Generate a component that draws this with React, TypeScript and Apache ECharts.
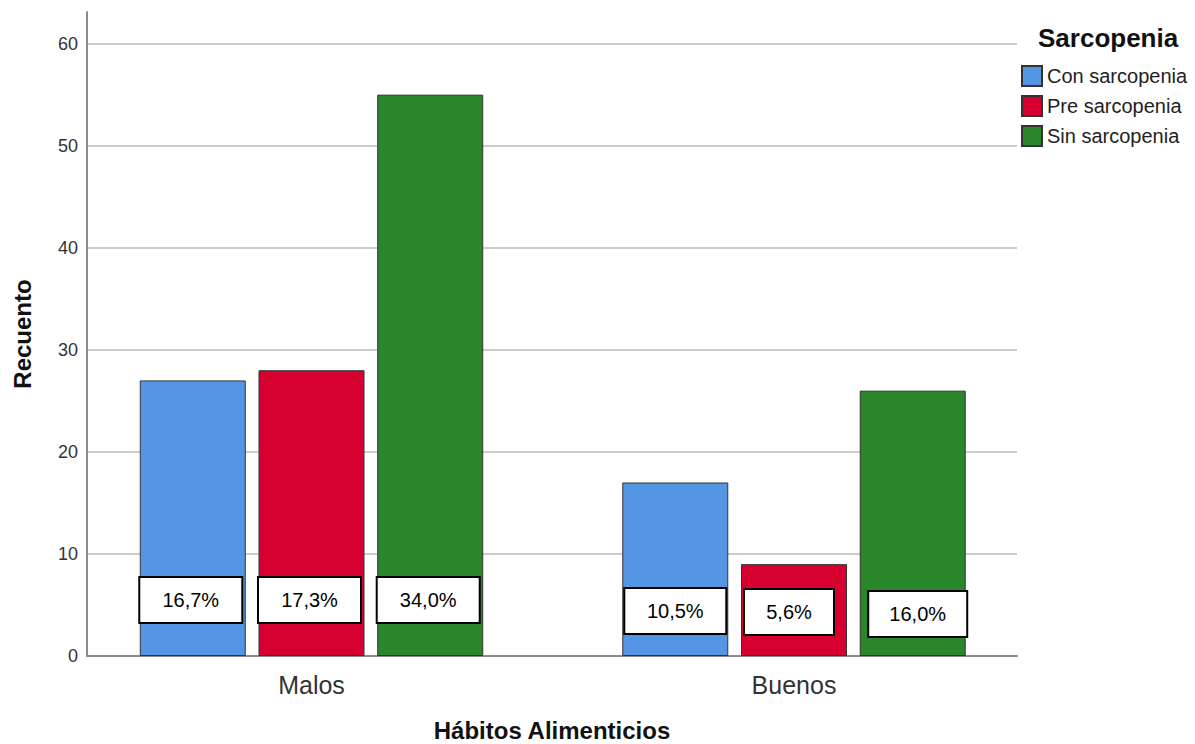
import React, { useEffect, useRef } from "react";
import * as echarts from "echarts";

const categories = ["Malos", "Buenos"];
const seriesNames = ["Con sarcopenia", "Pre sarcopenia", "Sin sarcopenia"];
const conValues = [27, 17];
const preValues = [28, 9];
const sinValues = [55, 26];
const conPct = ["16,7%", "10,5%"];
const prePct = ["17,3%", "5,6%"];
const sinPct = ["34,0%", "16,0%"];
const yTicks = [0, 10, 20, 30, 40, 50, 60];

const colors = ["#5596E4", "#D60030", "#2A862A"];
const FONT = "'Liberation Sans', Arial, sans-serif";

// per-label box tweaks (style only)
const labelTweaks = [
  [{ distance: 34, dx: -2, w: 101 }, { distance: 23, dx: 0, w: 100 }],
  [{ distance: 34, dx: -2, w: 101 }, { distance: 22, dx: -5, w: 88 }],
  [{ distance: 34, dx: -2, w: 101 }, { distance: 20, dx: 5, w: 97 }],
];

export default function App() {
  const ref = useRef<HTMLDivElement>(null);
  useEffect(() => {
    if (!ref.current) return;
    const chart = echarts.init(ref.current, undefined, { renderer: "svg" });
    const valueSets = [conValues, preValues, sinValues];
    const pctSets = [conPct, prePct, sinPct];
    const yMax = 63.1;
    const series: any[] = valueSets.map((vals, si) => ({
      name: seriesNames[si],
      type: "bar",
      xAxisIndex: 1,
      yAxisIndex: 1,
      barWidth: 106,
      barGap: "12%",
      itemStyle: { color: colors[si], borderColor: "#333", borderWidth: 1 },
      data: vals.map((v, ci) => {
        const t = labelTweaks[si][ci];
        return {
          value: v,
          label: {
            show: true,
            position: "insideBottom",
            distance: t.distance,
            offset: [t.dx, 0],
            formatter: pctSets[si][ci],
            width: t.w,
            height: 44,
            lineHeight: 44,
            align: "center",
            backgroundColor: "#fff",
            borderColor: "#000",
            borderWidth: 2,
            color: "#000",
            fontSize: 20,
            fontFamily: FONT,
          },
        };
      }),
    }));
    chart.setOption({
      animation: false,
      title: {
        text: "Sarcopenia",
        left: 1033,
        top: 20,
        textStyle: { fontSize: 26, fontWeight: "bold", color: "#111", fontFamily: FONT },
      },
      legend: {
        orient: "vertical",
        left: 1016,
        top: 60,
        itemWidth: 20,
        itemHeight: 20,
        itemGap: 8,
        icon: "rect",
        data: seriesNames,
        textStyle: { fontSize: 20, color: "#222", fontFamily: FONT },
      },
      grid: [
        { left: 87, right: 178, top: 12, bottom: 88, outerBoundsMode: "none", containLabel: false },
        { left: 70.25, right: 159.75, top: 12, bottom: 88, outerBoundsMode: "none", containLabel: false },
      ],
      xAxis: [
        {
          gridIndex: 0,
          type: "value",
          min: 0,
          max: 1,
          axisLine: { show: true, lineStyle: { color: "#8c8c8c", width: 2 } },
          axisTick: { show: false },
          axisLabel: { show: false },
          splitLine: { show: false },
          name: "Hábitos Alimenticios",
          nameLocation: "middle",
          nameGap: 62,
          nameTextStyle: { fontSize: 24, fontWeight: "bold", color: "#111", fontFamily: FONT },
        },
        {
          gridIndex: 1,
          type: "category",
          data: categories,
          axisLine: { show: false },
          axisTick: { show: false },
          axisLabel: { fontSize: 25, color: "#333", margin: 16, fontFamily: FONT },
        },
      ],
      yAxis: [
        {
          gridIndex: 0,
          type: "value",
          min: 0,
          max: yMax,
          interval: 10,
          axisLine: { show: true, lineStyle: { color: "#8c8c8c", width: 2 } },
          axisTick: { show: false },
          axisLabel: {
            fontSize: 18,
            color: "#333",
            margin: 9,
            fontFamily: FONT,
            showMaxLabel: false,
            formatter: (v: number) => (yTicks.includes(v) ? String(v) : ""),
          },
          splitLine: { show: true, showMinLine: false, showMaxLine: false, lineStyle: { color: "#cccccc", width: 2 } },
          name: "Recuento",
          nameLocation: "middle",
          nameRotate: 90,
          nameGap: 53,
          nameTextStyle: { fontSize: 24, fontWeight: "bold", color: "#111", fontFamily: FONT },
        },
        {
          gridIndex: 1,
          type: "value",
          min: 0,
          max: yMax,
          show: false,
          splitLine: { show: false },
        },
      ],
      series,
    });
    return () => chart.dispose();
  }, []);
  return <div ref={ref} style={{ position: "absolute", left: 0, top: 0, width: 1195, height: 744 }} />;
}
